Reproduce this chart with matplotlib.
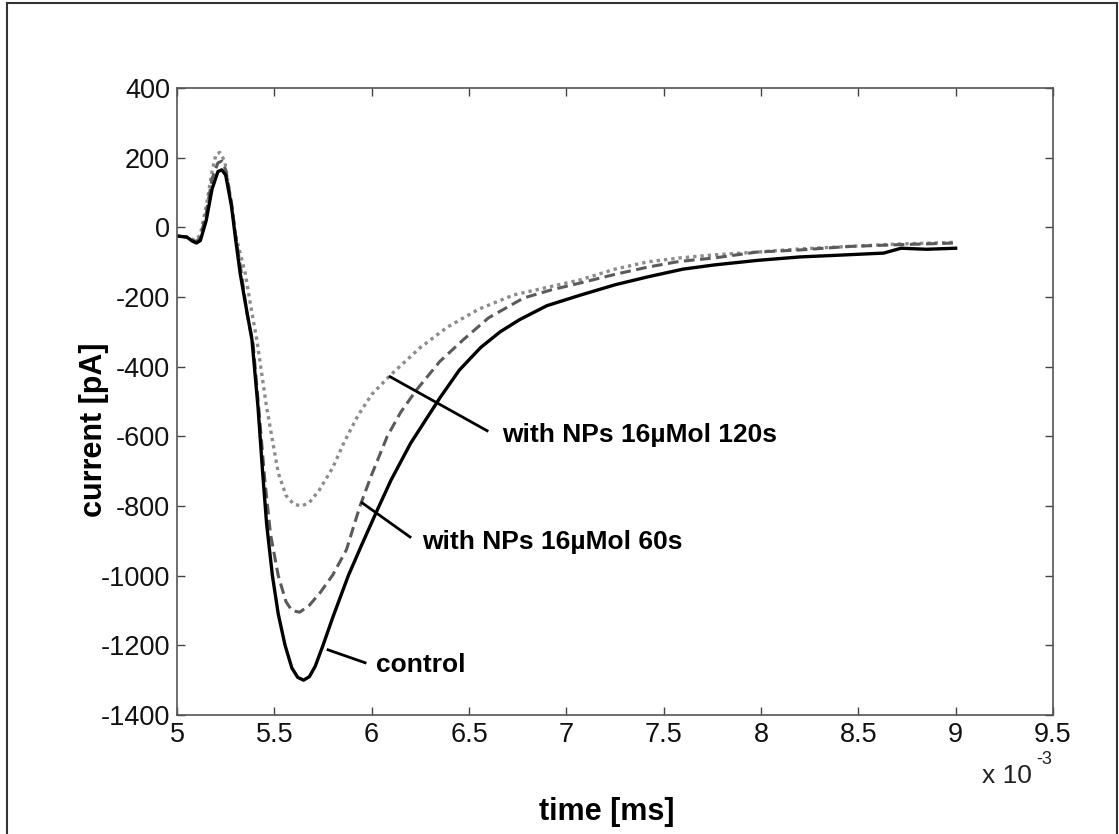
import matplotlib
matplotlib.use('Agg')
import matplotlib.pyplot as plt
from matplotlib.patches import Rectangle

plt.rcParams['font.family'] = ['Liberation Sans', 'DejaVu Sans']
plt.rcParams['axes.unicode_minus'] = False

# time in units of 1e-3 (as on the axis), current in pA
t_control = [5.00, 5.05, 5.08, 5.10, 5.12, 5.15, 5.18, 5.21, 5.23, 5.25, 5.28, 5.30,
             5.324, 5.355, 5.385, 5.416, 5.44, 5.46, 5.49, 5.52, 5.555, 5.59, 5.62,
             5.65, 5.68, 5.71, 5.75, 5.80, 5.88, 5.95, 6.03, 6.10, 6.20, 6.35, 6.45,
             6.56, 6.66, 6.76, 6.90, 7.07, 7.25, 7.42, 7.60, 7.76, 7.98, 8.20, 8.40,
             8.63, 8.72, 8.85, 9.00]
i_control = [-25, -28, -40, -45, -38, 20, 110, 160, 165, 150, 60, -30,
             -131, -230, -323, -516, -705, -850, -1000, -1110, -1200, -1265, -1292,
             -1300, -1290, -1260, -1200, -1120, -1000, -910, -810, -725, -620, -490, -410,
             -345, -300, -265, -225, -195, -165, -142, -120, -108, -95, -85, -80,
             -74, -60, -63, -60]

t_60s = [5.00, 5.05, 5.08, 5.10, 5.12, 5.15, 5.18, 5.21, 5.23, 5.25, 5.28, 5.30,
         5.33, 5.36, 5.39, 5.42, 5.45, 5.48, 5.52, 5.56, 5.59, 5.63, 5.68, 5.735,
         5.80, 5.87, 5.94, 6.00, 6.08, 6.15, 6.23, 6.35, 6.47, 6.60, 6.78, 6.92,
         7.07, 7.25, 7.42, 7.58, 7.76, 7.98, 8.20, 8.45, 8.70, 9.00]
i_60s = [-25, -28, -38, -40, -30, 40, 140, 185, 190, 165, 70, -20,
         -130, -250, -330, -520, -720, -880, -1000, -1075, -1100, -1105, -1085, -1049,
         -998, -926, -800, -710, -600, -530, -467, -385, -323, -260, -203, -180,
         -160, -135, -114, -98, -88, -71, -65, -55, -50, -45]

t_120s = [5.00, 5.05, 5.08, 5.10, 5.12, 5.15, 5.18, 5.20, 5.22, 5.245, 5.27, 5.30,
          5.35, 5.38, 5.41, 5.46, 5.52, 5.56, 5.60, 5.64, 5.68, 5.73, 5.80, 5.86,
          5.93, 6.00, 6.095, 6.25, 6.39, 6.55, 6.73, 7.07, 7.25, 7.42, 7.58, 7.76,
          7.98, 8.20, 8.45, 8.70, 9.00]
i_120s = [-25, -28, -35, -35, -20, 60, 160, 210, 215, 190, 100, -20,
          -131, -230, -323, -516, -705, -770, -795, -800, -790, -755, -690, -615,
          -540, -480, -425, -345, -286, -235, -194, -151, -120, -99, -88, -79,
          -71, -62, -55, -48, -43]

x_ticks = [5, 5.5, 6, 6.5, 7, 7.5, 8, 8.5, 9, 9.5]
y_ticks = [400, 200, 0, -200, -400, -600, -800, -1000, -1200, -1400]

fig = plt.figure(figsize=(11.19, 8.34), dpi=100)
ax = fig.add_axes([0.1582, 0.1427, 0.7828, 0.7518])

ax.plot(t_120s, i_120s, color='#8c8c8c', lw=2.4, linestyle=(0, (1, 1.2)))
ax.plot(t_60s, i_60s, color='#5a5a5a', lw=2.2, linestyle=(0, (3.5, 1.8)))
ax.plot(t_control, i_control, color='black', lw=2.4)

ax.set_xlim(5, 9.5)
ax.set_ylim(-1400, 400)
ax.set_xticks(x_ticks)
ax.set_xticklabels(['%g' % v for v in x_ticks])
ax.set_yticks(y_ticks)
ax.set_yticklabels(['%d' % v for v in y_ticks])
ax.tick_params(direction='in', length=6, width=1, labelsize=19.5, pad=5,
               top=True, right=True, colors='#444444', labelcolor='#111111')
for s in ax.spines.values():
    s.set_color('#555555')
    s.set_linewidth(1.2)

# annotations
ax.plot([6.095, 6.593], [-429, -584], color='black', lw=2)
ax.text(6.67, -596, 'with NPs 16µMol 120s', fontsize=19, fontweight='bold',
        va='center', ha='left')
ax.plot([5.951, 6.197], [-791, -889], color='black', lw=2)
ax.text(6.259, -903, 'with NPs 16µMol 60s', fontsize=19, fontweight='bold',
        va='center', ha='left')
ax.plot([5.776, 5.966], [-1213, -1250], color='black', lw=2)
ax.text(6.023, -1256, 'control', fontsize=19, fontweight='bold',
        va='center', ha='left')

fig.text(982 / 1119, 1 - 776 / 834, 'x 10', fontsize=19, va='center', ha='left',
         color='#222222')
fig.text(1036 / 1119, 1 - 760 / 834, '-3', fontsize=13, va='center', ha='left',
         color='#222222')

fig.text(94 / 1119, 1 - 430 / 834, 'current [pA]', fontsize=22, fontweight='bold',
         rotation=90, va='center', ha='center')
fig.text(607 / 1119, 1 - 812 / 834, 'time [ms]', fontsize=22, fontweight='bold',
         va='center', ha='center')

# outer frame of the figure
fig.patches.append(Rectangle((7 / 1119, -0.05), 1110 / 1119, 1.05 - 3 / 834,
                             transform=fig.transFigure, fill=False,
                             edgecolor='#333333', lw=1.5))

fig.savefig('out.png', dpi=100)
